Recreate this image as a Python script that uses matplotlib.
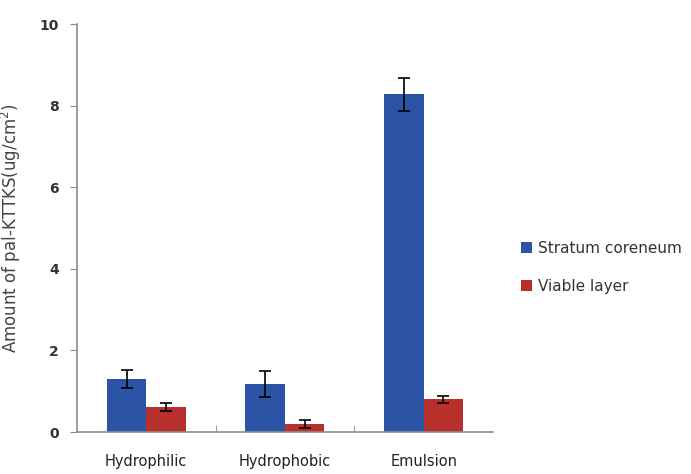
import numpy as np
import matplotlib.pyplot as plt

categories = ['Hydrophilic', 'Hydrophobic', 'Emulsion']
stratum = [1.30, 1.18, 8.28]
stratum_err = [0.22, 0.32, 0.40]
viable = [0.62, 0.20, 0.80]
viable_err = [0.10, 0.10, 0.09]

blue = '#2b54a6'
red = '#b8302b'
gray = '#8c8c8c'
txt = '#333333'

fig = plt.figure(figsize=(6.91, 4.74), dpi=100)
ax = fig.add_axes([0.1114, 0.0886, 0.602, 0.8604])

x = np.arange(len(categories))
w = 0.285
ax.bar(x - w / 2, stratum, w, color=blue, label='Stratum coreneum',
       yerr=stratum_err, error_kw=dict(ecolor='black', elinewidth=1.2, capsize=4, capthick=1.2))
ax.bar(x + w / 2, viable, w, color=red, label='Viable layer',
       yerr=viable_err, error_kw=dict(ecolor='black', elinewidth=1.2, capsize=4, capthick=1.2))

ax.set_xlim(-0.5, 2.5)
ax.set_ylim(0, 10)
ax.set_yticks([0, 2, 4, 6, 8, 10])
ax.set_xticks(x)
ax.set_xticklabels(categories)
ax.set_xticks([0.5, 1.5], minor=True)

for s in ['top', 'right']:
    ax.spines[s].set_visible(False)
for s in ['left', 'bottom']:
    ax.spines[s].set_color(gray)
    ax.spines[s].set_linewidth(1.2)

ax.tick_params(axis='y', colors=gray, labelcolor=txt, length=5, labelsize=10, pad=8)
ax.tick_params(axis='x', which='major', length=0, labelcolor='#222222', labelsize=10.5, pad=16)
ax.tick_params(axis='x', which='minor', direction='in', length=5, colors=gray)
for lab in ax.get_yticklabels():
    lab.set_fontweight('bold')

ax.set_ylabel('Amount of pal-KTTKS(ug/cm$^2$)', fontsize=12, color='#444444', labelpad=12)

ax.legend(loc='center left', bbox_to_anchor=(1.035, 0.403), frameon=False,
          handlelength=0.7, handleheight=0.7, handletextpad=0.4, labelspacing=1.5,
          fontsize=11, labelcolor=txt)

fig.savefig('out.png', dpi=100)
